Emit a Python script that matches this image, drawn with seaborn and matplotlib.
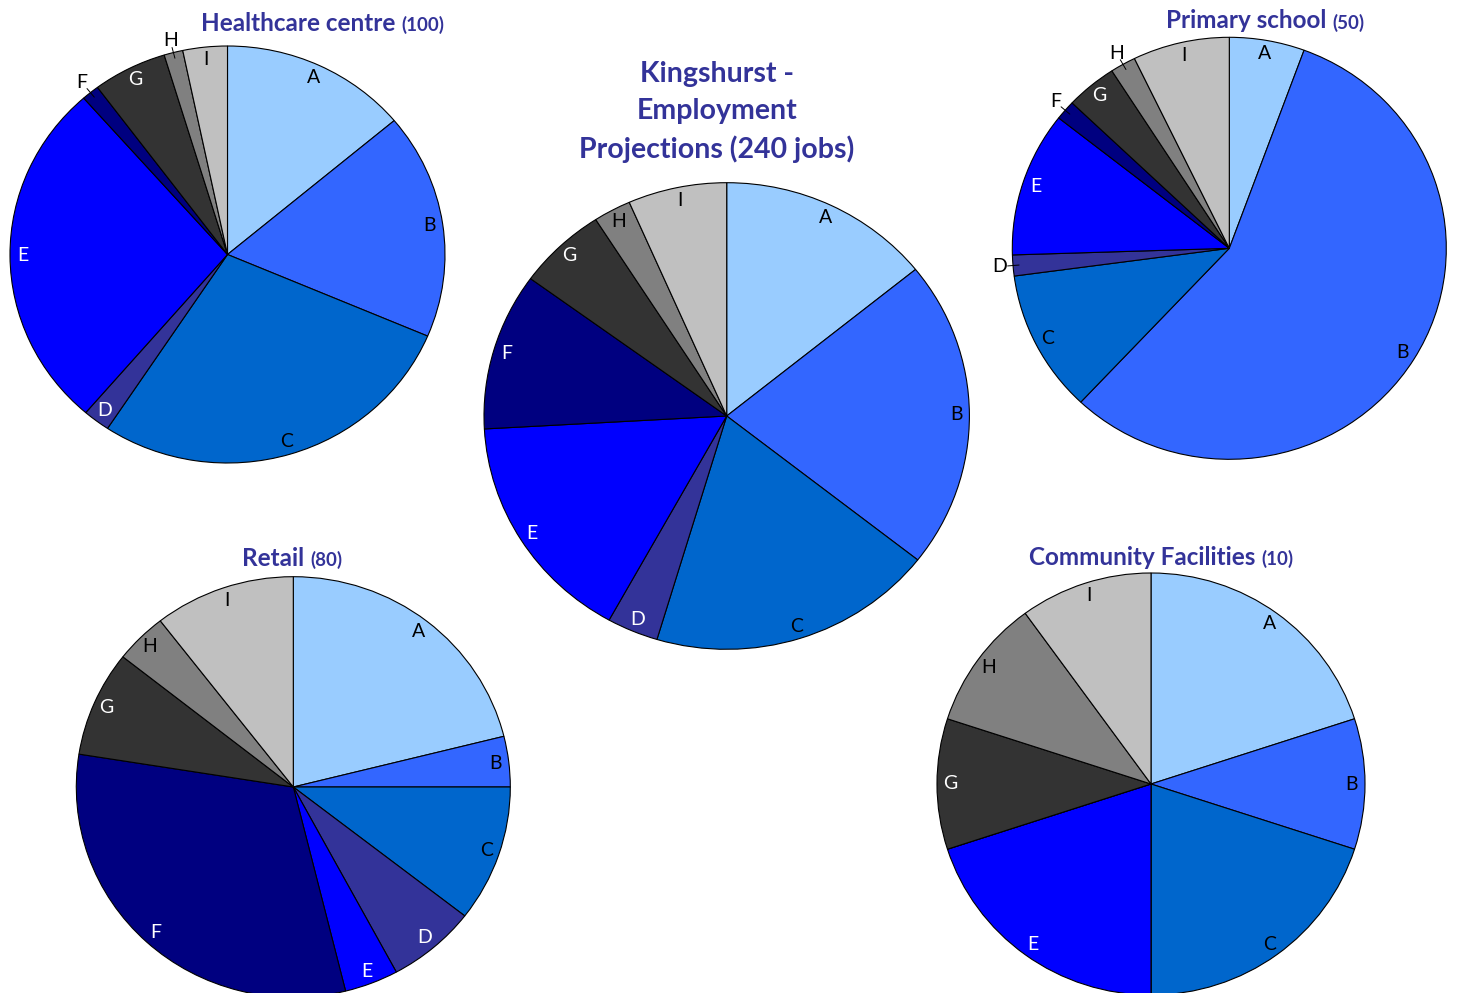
import matplotlib
matplotlib.use("Agg")
import matplotlib.pyplot as plt
import seaborn as sns
import numpy as np

# ---------------- data ----------------
categories = ["A", "B", "C", "D", "E", "F", "G", "H", "I"]
healthcare_jobs = [13.9, 17.5, 27.9, 2.0, 27.2, 1.3, 5.5, 1.4, 3.3]      # of 100
primary_jobs = [2.8, 28.2, 5.45, 0.8, 5.55, 0.75, 1.9, 0.95, 3.6]         # of 50
total_jobs = [34.1, 51.4, 45.8, 8.2, 38.6, 26.2, 14.2, 6.0, 15.8]         # of 240
retail_jobs = [16.9, 3.1, 8.4, 5.3, 3.2, 25.1, 6.5, 3.1, 8.4]             # of 80
community_jobs = [2, 1, 2, 0, 2, 0, 1, 1, 1]                              # of 10

healthcare_title = ("Healthcare centre", "(100)")
primary_title = ("Primary school", "(50)")
retail_title = ("Retail", "(80)")
community_title = ("Community Facilities", "(10)")
main_title = ["Kingshurst -", "Employment", "Projections (240 jobs)"]

# ---------------- style ----------------
slice_colors = ["#99CCFF", "#3366FF", "#0066CC", "#333399", "#0000FF",
                "#000080", "#333333", "#808080", "#C0C0C0"]
label_colors = ["black", "black", "black", "white", "white",
                "white", "white", "black", "black"]
title_color = "#333399"

sns.set_theme(style="white")
plt.rcParams["font.family"] = ["Lato", "DejaVu Sans"]

W, H = 1457, 993
fig = plt.figure(figsize=(W / 100, H / 100), dpi=100)
fig.patch.set_facecolor("white")

# layout in pixels: cx, cy, rx, ry, title centre x, title baseline y
layout = [
    (healthcare_jobs, healthcare_title, 227.5, 254.5, 217.5, 208.5, 323, 31),
    (primary_jobs, primary_title, 1229.3, 248.3, 217, 211, 1265, 28.5),
    (total_jobs, None, 726.7, 416, 242.7, 233.3, None, None),
    (retail_jobs, retail_title, 293.3, 787, 217, 210.3, 292.5, 566),
    (community_jobs, community_title, 1151, 784, 214, 211, 1161, 565),
]

OUTSIDE_FRAC = 0.0195
LABEL_SIZE = 14

for values, title, cx, cy, rx, ry, tcx, tby in layout:
    ax = fig.add_axes([(cx - rx) / W, 1 - (cy + ry) / H, 2 * rx / W, 2 * ry / H])
    wedges, _ = ax.pie(values, colors=slice_colors, startangle=90, counterclock=False,
                       wedgeprops=dict(edgecolor="black", linewidth=0.8, clip_on=False))
    ax.set_aspect("auto")
    ax.set_xlim(-1, 1)
    ax.set_ylim(-1, 1)
    ax.axis("off")
    total = sum(values)
    r_in = 1 - 13 / ((rx + ry) / 2)
    for w, v, cat, lc in zip(wedges, values, categories, label_colors):
        if v <= 0:
            continue
        phi = np.deg2rad((w.theta1 + w.theta2) / 2)
        c, s = np.cos(phi), np.sin(phi)
        if v / total < OUTSIDE_FRAC:
            ax.plot([0.972 * c, 1.025 * c], [0.972 * s, 1.025 * s], color="black",
                    lw=0.7, clip_on=False, zorder=5)
            ax.text(1.06 * c, 1.06 * s, cat, ha="center", va="center",
                    fontsize=LABEL_SIZE, color="black", clip_on=False, zorder=6)
        else:
            ax.text(r_in * c, r_in * s, cat, ha="center", va="center",
                    fontsize=LABEL_SIZE, color=lc, zorder=6)

# ---------------- titles ----------------
renderer = fig.canvas.get_renderer()
for values, title, cx, cy, rx, ry, tcx, tby in layout:
    if title is None:
        continue
    main, suffix = title
    t1 = fig.text(0, 0, main + " ", fontsize=17.5, fontweight="bold", color=title_color,
                  ha="left", va="baseline")
    t2 = fig.text(0, 0, suffix, fontsize=13.5, fontweight="bold", color=title_color,
                  ha="left", va="baseline")
    w1 = t1.get_window_extent(renderer).width
    w2 = t2.get_window_extent(renderer).width
    x0 = tcx - (w1 + w2) / 2
    t1.set_position((x0 / W, 1 - tby / H))
    t2.set_position(((x0 + w1) / W, 1 - tby / H))

for line, base in zip(main_title, [81.7, 119.3, 158.3]):
    fig.text(717 / W, 1 - base / H, line, fontsize=20.5, fontweight="bold",
             color=title_color, ha="center", va="baseline")

fig.savefig("out.png", dpi=100, facecolor="white")
